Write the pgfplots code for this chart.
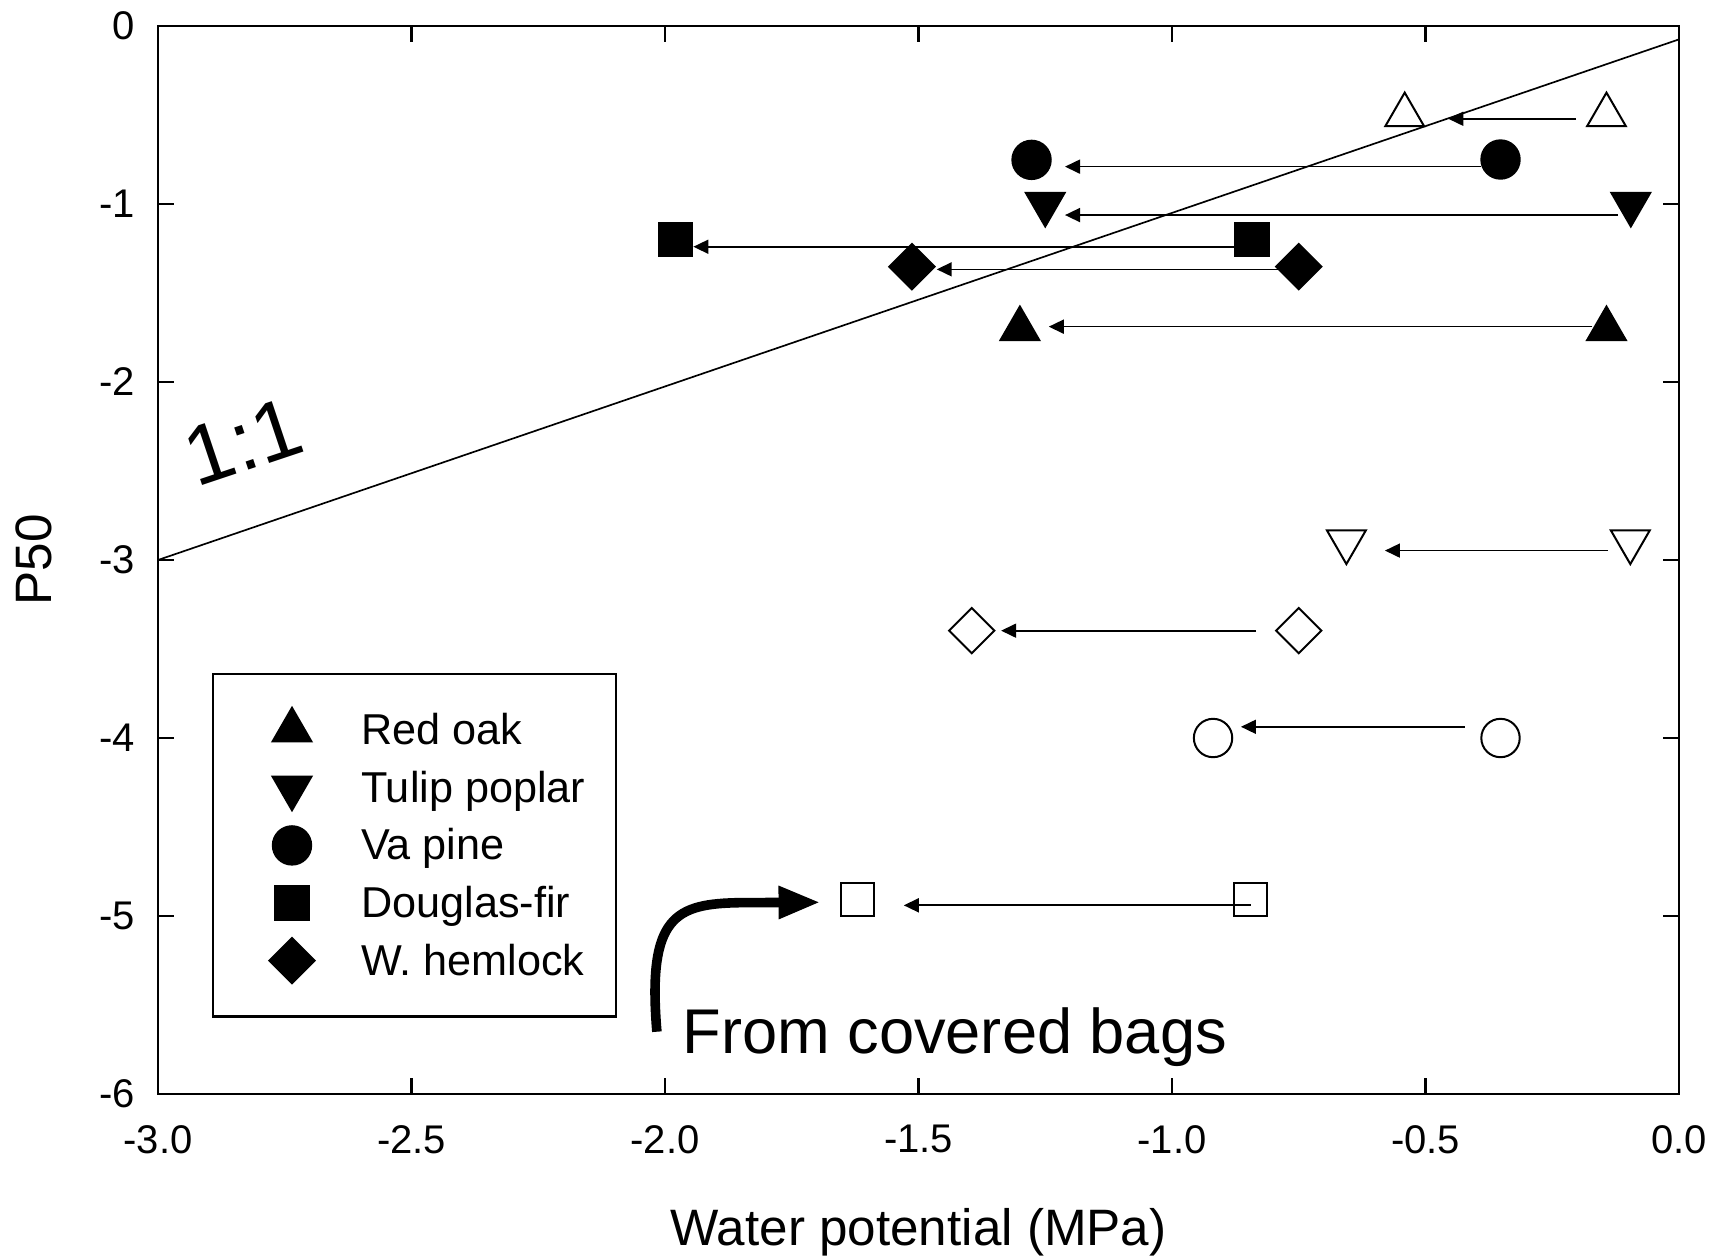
\documentclass[border=0pt]{standalone}
\usepackage{fontspec}
\setmainfont{Liberation Sans}
\usepackage{pgfplots}
\pgfplotsset{compat=1.18}
\usetikzlibrary{arrows.meta}
\newcommand\ls{\rule[-1.5pt]{0pt}{10.2pt}}
\begin{document}
\begin{tikzpicture}
\begin{axis}[
  at={(0,0)}, anchor=south west,
  width=380.25pt, height=267pt, scale only axis,
  xmin=-3, xmax=0, ymin=-6, ymax=0,
  xtick={-3,-2.5,-2,-1.5,-1,-0.5,0},
  xticklabels={-3.0,-2.5,-2.0,-1.5,-1.0,-0.5,0.0},
  ytick={-6,-5,-4,-3,-2,-1,0},
  yticklabels={-6,-5,-4,-3,-2,-1,0},
  xtick pos=both, ytick pos=both,
  xticklabel pos=lower, yticklabel pos=left,
  tick align=inside, major tick length=4pt,
  tick style={line width=0.67pt, black},
  axis line style={line width=0.67pt},
  xticklabel style={inner sep=0pt, anchor=north, yshift=-7.6pt, font=\fontsize{10}{11}\selectfont},
  yticklabel style={inner sep=0pt, anchor=east, xshift=-5.5pt, font=\fontsize{10}{11}\selectfont},
  xlabel={Water potential (MPa)},
  xlabel style={at={(axis description cs:0.5,-0.1414)}, anchor=base, inner sep=0pt, font=\fontsize{12.8}{15}\selectfont},
  ylabel={P50},
  ylabel style={at={(axis description cs:-0.0699,0.5)}, anchor=base, inner sep=0pt, font=\fontsize{12.8}{15}\selectfont},
  legend style={at={(axis description cs:0.0355,0.3942)}, anchor=north west,
    draw=black, line width=0.6pt, inner xsep=7.7pt, inner ysep=6.8pt,
    column sep=9.3pt, row sep=0pt,
    font=\fontsize{10.8}{12}\selectfont,
    nodes={inner sep=0pt, minimum height=14.4pt}},
  legend cell align=left,
  legend image code/.code={\path[use as bounding box, draw=none, fill=none] (-4pt,-7pt) rectangle (16pt,7pt);
    \draw[mark repeat=2,mark phase=2,#1] plot coordinates {(0pt,0pt)(8pt,0pt)(16pt,0pt)};},
  arr/.style={line width=0.42pt, -{Triangle[length=3.75pt,width=3.5pt]}},
]
% 1:1 line
\addplot[line width=0.42pt, forget plot] coordinates {(-3,-3) (0,-0.075)};
% arrows (filled)
\addplot[arr, forget plot] coordinates {(-0.171,-1.689) (-1.243,-1.689)};
\addplot[arr, forget plot] coordinates {(-0.12,-1.062) (-1.211,-1.062)};
\addplot[arr, forget plot] coordinates {(-0.39,-0.790) (-1.211,-0.790)};
\addplot[arr, forget plot] coordinates {(-0.86,-1.240) (-1.944,-1.240)};
\addplot[arr, forget plot] coordinates {(-0.78,-1.367) (-1.464,-1.367)};
% arrows (open)
\addplot[arr, forget plot] coordinates {(-0.203,-0.521) (-0.455,-0.521)};
\addplot[arr, forget plot] coordinates {(-0.140,-2.947) (-0.580,-2.947)};
\addplot[arr, forget plot] coordinates {(-0.423,-3.937) (-0.864,-3.937)};
\addplot[arr, forget plot] coordinates {(-0.845,-4.94) (-1.529,-4.94)};
\addplot[arr, forget plot] coordinates {(-0.834,-3.397) (-1.337,-3.397)};
% filled markers
\addplot[only marks, mark=triangle*, mark size=5.6pt, line width=0.5pt, black, fill=black]
  coordinates {(-1.300,-1.702) (-0.143,-1.702)};
\addlegendentry{\ls Red oak}
\addplot[only marks, mark=triangle*, mark size=5.6pt, line width=0.5pt, black, fill=black, mark options={rotate=180}]
  coordinates {(-1.250,-1.000) (-0.095,-1.000)};
\addlegendentry{\ls Tulip poplar}
\addplot[only marks, mark=*, mark size=4.8pt, line width=0.5pt, black, fill=black]
  coordinates {(-1.277,-0.752) (-0.352,-0.750)};
\addlegendentry{\ls Va pine}
\addplot[only marks, mark=square*, mark size=4.15pt, line width=0.5pt, black, fill=black]
  coordinates {(-1.980,-1.200) (-0.842,-1.200)};
\addlegendentry{\ls Douglas-fir}
\addplot[only marks, mark=square*, mark size=4.0pt, line width=0.5pt, black, fill=black, mark options={rotate=45}]
  coordinates {(-1.513,-1.352) (-0.750,-1.352)};
\addlegendentry{\ls W. hemlock}
% open markers
\addplot[only marks, mark=triangle, mark size=5.6pt, line width=0.5pt, black, forget plot]
  coordinates {(-0.541,-0.500) (-0.143,-0.500)};
\addplot[only marks, mark=triangle, mark size=5.6pt, line width=0.5pt, black, mark options={rotate=180}, forget plot]
  coordinates {(-0.656,-2.897) (-0.096,-2.897)};
\addplot[only marks, mark=o, mark size=4.8pt, line width=0.5pt, black, forget plot]
  coordinates {(-0.919,-4.000) (-0.352,-4.000)};
\addplot[only marks, mark=square, mark size=4.15pt, line width=0.5pt, black, forget plot]
  coordinates {(-1.621,-4.905) (-0.845,-4.905)};
\addplot[only marks, mark=square, mark size=4.0pt, line width=0.5pt, black, mark options={rotate=45}, forget plot]
  coordinates {(-1.395,-3.397) (-0.750,-3.397)};
% annotations
\node[rotate=18.5, inner sep=0pt, font=\fontsize{21}{24}\selectfont] at (axis cs:-2.832,-2.335) {1:1};
\draw[line width=2.4pt, -{Triangle[length=10.4pt,width=7.7pt]}]
  (axis cs:-2.016,-5.65) .. controls (axis cs:-2.035,-5.0) and (axis cs:-1.98,-4.93) .. (axis cs:-1.85,-4.925) -- (axis cs:-1.694,-4.923);
\node[anchor=base west, inner sep=0pt, font=\fontsize{15.8}{18}\selectfont] at (axis cs:-1.967,-5.774) {From covered bags};
\end{axis}
\pgfresetboundingbox
\path[use as bounding box] (-39.5pt,-40.5pt) rectangle (389.5pt,273.5pt);
\end{tikzpicture}
\end{document}
